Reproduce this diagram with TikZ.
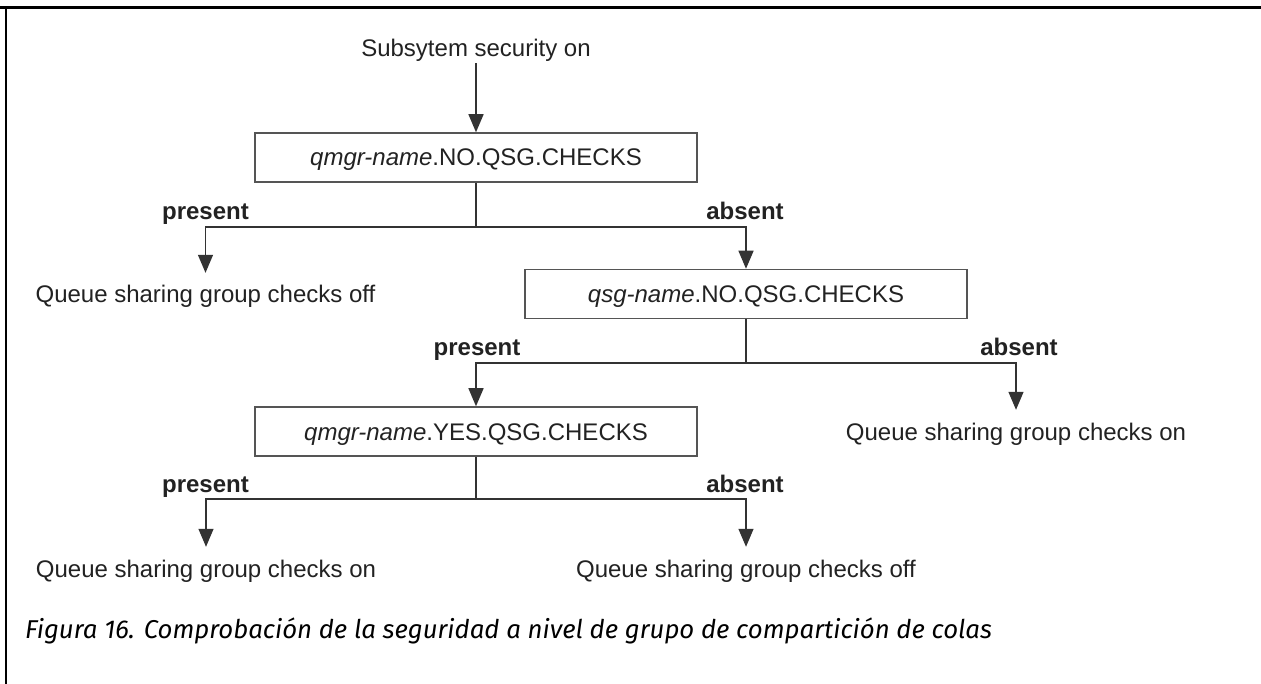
\documentclass[tikz,border=0pt]{standalone}
\usepackage{fontspec}
\setmainfont{Liberation Sans}
\newfontfamily\capfont{Fira Sans}
\usetikzlibrary{arrows.meta}
\definecolor{linecol}{HTML}{333333}
\definecolor{boxcol}{HTML}{555555}
\definecolor{txtcol}{HTML}{222222}
\begin{document}
\begin{tikzpicture}[x=1pt,y=-1pt,
  every node/.style={inner sep=0pt, text=txtcol},
  dtext/.style={font=\fontsize{24}{28}\selectfont, text height=17pt, text depth=5pt},
  target/.style={dtext, inner ysep=13pt},
  qbox/.style={draw=boxcol, line width=1.5pt, minimum width=442pt, minimum height=49pt,
    font=\fontsize{24}{28}\selectfont, text height=17pt, text depth=0pt},
  blabel/.style={font=\bfseries\fontsize{24}{28}\selectfont},
  conn/.style={draw=linecol, line width=1.3pt},
  arr/.style={conn, -{Triangle[width=15pt,length=18pt]}},
  capt/.style={font=\capfont\itshape\fontsize{25.8}{30}\selectfont, text=black}
]
\useasboundingbox (0,0) rectangle (1261,684);
\fill[white] (0,0) rectangle (1261,684);
% frame
\draw[line width=3pt] (0,8) -- (1261,8);
\draw[line width=2.4pt] (6,684) -- (6,8);

% nodes
\node[dtext, anchor=base, inner ysep=1pt] (start) at (476,57) {Subsytem security on};
\node[qbox] (b1) at (476,157.5) {\textit{qmgr-name}.NO.QSG.CHECKS};
\node[target, anchor=base] (off1) at (205.5,303) {Queue sharing group checks off};
\node[qbox] (b2) at (746,294) {\textit{qsg-name}.NO.QSG.CHECKS};
\node[qbox] (b3) at (476,431.5) {\textit{qmgr-name}.YES.QSG.CHECKS};
\node[target, anchor=base] (on1) at (1016,440) {Queue sharing group checks on};
\node[target, anchor=base] (on2) at (206,577) {Queue sharing group checks on};
\node[target, anchor=base] (off2) at (746,577) {Queue sharing group checks off};

% labels
\node[blabel, anchor=base] (p1) at (205.5,220) {present};
\node[blabel, anchor=base] (a1) at (745,220) {absent};
\node[blabel, anchor=base] (p2) at (477,356) {present};
\node[blabel, anchor=base] (a2) at (1019,356) {absent};
\node[blabel, anchor=base] (p3) at (205.5,492) {present};
\node[blabel, anchor=base] (a3) at (745,492) {absent};

% junctions
\coordinate (j1) at (476,227);
\coordinate (j2) at (746,363);
\coordinate (j3) at (476,499);

% connectors
\draw[arr] (start.south) -- (b1.north);
\draw[conn] (b1.south) -- (j1);
\draw[arr] (j1) -| (off1.north);
\draw[arr] (j1) -| (b2.north);
\draw[conn] (b2.south) -- (j2);
\draw[arr] (j2) -| (b3.north);
\draw[arr] (j2) -| (on1.north);
\draw[conn] (b3.south) -- (j3);
\draw[arr] (j3) -| (on2.north);
\draw[arr] (j3) -| (off2.north);

% caption
\node[capt, anchor=base west] (cap) at (25,638) {Figura 16. Comprobación de la seguridad a nivel de grupo de compartición de colas};
\end{tikzpicture}
\end{document}
